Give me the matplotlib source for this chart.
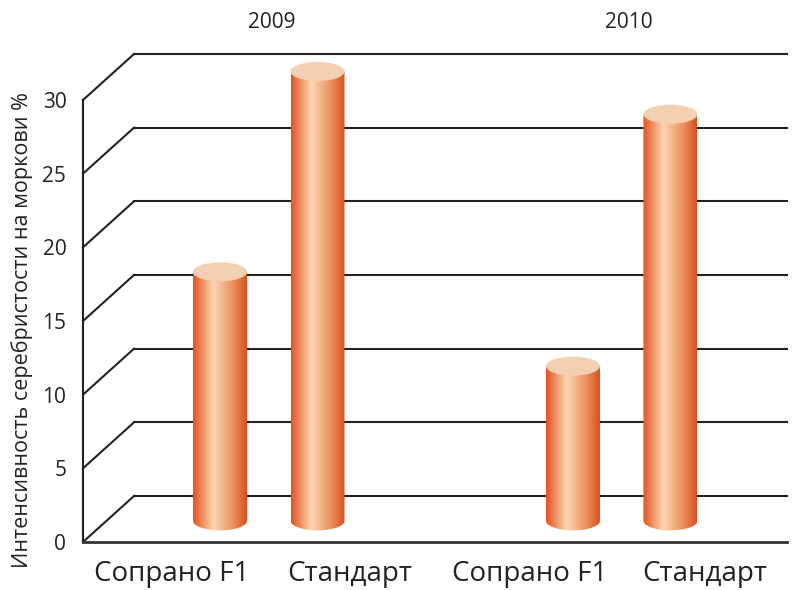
import numpy as np
import matplotlib
matplotlib.use("Agg")
import matplotlib.pyplot as plt
from matplotlib.path import Path
from matplotlib.patches import PathPatch, Ellipse

plt.rcParams['font.family'] = ['Open Sans', 'DejaVu Sans']

# data
years = ["2009", "2010"]
varieties = ["Сопрано F1", "Стандарт"]
values_2009 = [16.9, 30.5]
values_2010 = [10.5, 27.6]
y_ticks = [0, 5, 10, 15, 20, 25, 30]
y_label = "Интенсивность серебристости на моркови %"

W, H = 793, 590
fig = plt.figure(figsize=(W / 100, H / 100), dpi=100)
# axes: front wall at px 83, floor at px 542
ax = fig.add_axes([83 / W, (H - 542) / H, (787 - 83) / W, (542 - 10) / H])
px_per_x = 97.5
px_per_v = 14.733
xlim = (-137 / px_per_x, (787 - 220) / px_per_x)
ylim = (0, (542 - 10) / px_per_v)

# depth of the pseudo 3D box
dx = 51 / px_per_x
dy = 46 / px_per_v
grid_col = "#222222"

for v in y_ticks:
    ax.plot([xlim[0], xlim[0] + dx], [v, v + dy], color=grid_col, lw=1.5, zorder=1, clip_on=False)
    ax.plot([xlim[0] + dx, xlim[1]], [v + dy, v + dy], color=grid_col, lw=1.5, zorder=1, clip_on=False)

# cylinders
group_gap = 3.62
bar_w = 54 / px_per_x
ell_h = 19 / px_per_v
base = dy * 0.46

cmap = matplotlib.colors.LinearSegmentedColormap.from_list(
    "cyl", [(0.0, (0.90, 0.32, 0.11)), (0.38, (0.99, 0.84, 0.70)),
            (0.75, (0.92, 0.56, 0.36)), (1.0, (0.86, 0.31, 0.10))])
grad = np.linspace(0, 1, 256).reshape(1, -1)

all_vals = [values_2009, values_2010]
for g, vals in enumerate(all_vals):
    for i, val in enumerate(vals):
        xc = g * group_gap + i
        top = base + val
        x0, x1 = xc - bar_w / 2, xc + bar_w / 2
        t = np.linspace(0, np.pi, 40)
        arc_x = xc + bar_w / 2 * np.cos(t)
        arc_y = base - ell_h / 2 * np.sin(t)
        verts = [(x0, top), (x1, top)] + list(zip(arc_x, arc_y)) + [(x0, top)]
        clip = PathPatch(Path(verts), transform=ax.transData, fc="none", ec="none")
        ax.add_patch(clip)
        im = ax.imshow(grad, cmap=cmap, aspect="auto", extent=[x0, x1, base - ell_h, top],
                       zorder=2, interpolation="bilinear")
        im.set_clip_path(clip)
        ax.add_patch(Ellipse((xc, top), bar_w, ell_h, facecolor="#f4d0b2", edgecolor="none", zorder=3))
    ax.text(g * group_gap + 0.53 + 0.04 * g, (542 - 23) / px_per_v, years[g], ha="center", va="center",
            fontsize=15, color="#222222", clip_on=False)

ax.set_xlim(*xlim)
ax.set_ylim(*ylim)

for s in ["top", "right"]:
    ax.spines[s].set_visible(False)
ax.spines["left"].set_bounds(0, 30)
ax.spines["left"].set_color(grid_col)
ax.spines["left"].set_linewidth(1.5)
ax.spines["bottom"].set_color("#333333")
ax.spines["bottom"].set_linewidth(2)

ax.set_yticks(y_ticks)
ax.set_yticklabels([str(v) for v in y_ticks], fontsize=15, color="#222222")
ax.tick_params(axis="y", length=0, pad=12)

label_pos = [-0.5, 1.33, 3.18, 4.97]
ax.set_xticks(label_pos)
ax.set_xticklabels(varieties * 2, fontsize=20, color="#222222")
ax.tick_params(axis="x", length=0, pad=13)

fig.text(22 / W, 1 - 330 / H, y_label, rotation=90, ha="center", va="center",
         fontsize=15.5, color="#222222")

fig.savefig("out.png", dpi=100)
